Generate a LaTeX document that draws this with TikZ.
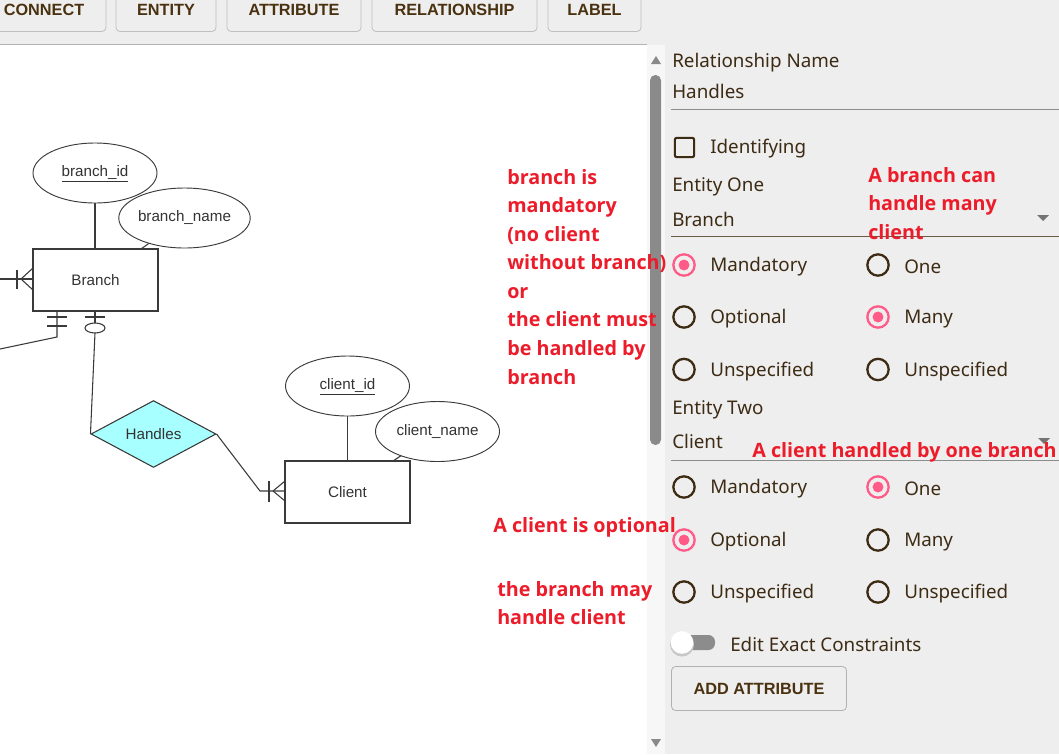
\documentclass[tikz,border=0pt]{standalone}
\usepackage{fontspec}
\setmainfont{Noto Sans}
\newfontfamily\uifont{Noto Sans}
\newfontfamily\btnfont{Liberation Sans}
\newfontfamily\erfont{Liberation Sans}
\newfontfamily\redfont{Open Sans}
\usetikzlibrary{shapes.geometric}
\definecolor{panel}{HTML}{EEEEEE}
\definecolor{track}{HTML}{F7F7F7}
\definecolor{thumb}{HTML}{8A8A8A}
\definecolor{uitext}{HTML}{3D2B14}
\definecolor{btntext}{HTML}{4A3210}
\definecolor{redann}{HTML}{EC1C2A}
\definecolor{pinkr}{HTML}{FF5A88}
\definecolor{cyanfill}{HTML}{A8FFFF}
\definecolor{erline}{HTML}{3A3A3A}
\definecolor{ertext}{HTML}{333333}
\definecolor{selline}{HTML}{6B5A45}
\tikzset{
  btn/.style={draw=black!25, rounded corners=3pt, line width=0.6pt, minimum height=33pt,
    text=btntext, font=\btnfont\bfseries\fontsize{12.2}{14}\selectfont, inner sep=0pt},
  uitxt/.style={anchor=west, text=uitext, inner sep=0pt, font=\uifont\fontsize{14.1}{16}\selectfont},
  radio/.style={circle, draw=uitext, line width=1.7pt, minimum size=16pt, inner sep=0pt},
  radioon/.style={radio, draw=pinkr, path picture={\fill[pinkr] (path picture bounding box.center) circle[radius=4.1pt];}},
  redtxt/.style={anchor=north west, align=left, inner sep=0pt, text=redann,
    font=\redfont\bfseries\fontsize{14.8}{21.4}\selectfont},
  attr/.style={ellipse, draw=erline, fill=white, line width=0.7pt, minimum width=93pt, minimum height=45pt,
    inner sep=0pt, text=ertext, text height=8pt, text depth=2.2pt, font=\erfont\fontsize{11.4}{13}\selectfont},
  ent/.style={rectangle, draw=erline, fill=white, line width=0.8pt, minimum width=93.75pt, minimum height=46.5pt,
    inner sep=0pt, text=ertext, font=\erfont\fontsize{11.4}{13}\selectfont},
  rel/.style={diamond, draw=erline, fill=cyanfill, line width=0.8pt, minimum width=93.75pt, minimum height=46.5pt,
    inner sep=0pt, text=ertext, font=\erfont\fontsize{11.4}{13}\selectfont},
  erl/.style={draw=erline, line width=0.8pt},
}
\begin{document}
\begin{tikzpicture}[x=0.75pt,y=-0.75pt]
\useasboundingbox (0,0) rectangle (1059,754);
\clip (0,0) rectangle (1059,754);
% backgrounds
\fill[panel] (0,0) rectangle (1059,754);
\fill[white] (0,45) rectangle (647,754);
\fill[track] (647,45) rectangle (665,754);
\draw[black!30, line width=0.75pt] (0,44.5) -- (647,44.5);
% scrollbar
\fill[thumb, rounded corners=4pt] (650,75) rectangle (661,445);
\fill[thumb] (651,64) -- (661,64) -- (656,56) -- cycle;
\fill[thumb] (651,739) -- (661,739) -- (656,747) -- cycle;
% toolbar buttons
\node[btn, minimum width=93pt] (bconnect) at (44,9.5) {CONNECT};
\node[btn, minimum width=75pt] (bentity) at (166,9.5) {ENTITY};
\node[btn, minimum width=100.5pt] (battr) at (294,9.5) {ATTRIBUTE};
\node[btn, minimum width=123.75pt] (brel) at (454.5,9.5) {RELATIONSHIP};
\node[btn, minimum width=69.75pt] (blabel) at (594.5,9.5) {LABEL};

% ---------------- ER diagram ----------------
\node[ent] (branch) at (95.5,280) {Branch};
\node[ent] (client) at (347.5,492) {Client};
\node[rel] (handles) at (153.5,434) {Handles};
% attribute links (behind ellipses)
\coordinate (bnstub) at (141,249);
\coordinate (cnstub) at (393,461);
\draw[erl] (95,203) -- (branch.north -| 95,0);
\draw[erl] (184.5,218) -- (bnstub);
\draw[erl] (347.5,416) -- (client.north);
\draw[erl] (437.5,431.5) -- (cnstub);
\node[attr] (bid) at (95,173) {\underline{branch\_id}};
\node[attr] (bname) at (184.5,218) {branch\_name};
\node[attr] (cid) at (347.5,386) {\underline{client\_id}};
\node[attr] (cname) at (437.5,431.5) {client\_name};
% left connector of Branch (one or many)
\coordinate (bleft) at (0,279);
\coordinate (bw) at (33,279);
\draw[erl] (bleft) -- (bw);
\draw[erl] (17,270) -- (17,289);
\draw[erl] (21,279) -- (33,268);
\draw[erl] (21,279) -- (33,290);
% bottom connector 1 (one and only one)
\coordinate (b1) at (57,303);
\coordinate (b1k) at (57,337);
\coordinate (b1e) at (0,349);
\draw[erl] (b1 |- branch.south) -- (b1k) -- (b1e);
\draw[erl] (47,317) -- (67,317);
\draw[erl] (47,326) -- (67,326);
% bottom connector 2 (zero or one) to Handles
\coordinate (b2) at (95,311);
\coordinate (b2o) at (95,333);
\draw[erl] (b2) -- (95,323);
\draw[erl] (85,317) -- (105,317);
\draw[erl] (95,328) ellipse [x radius=10, y radius=5];
\draw[erl] (b2o) -- (handles.west);
% Handles to Client (one or many)
\coordinate (hc) at (260,491);
\draw[erl] (handles.east) -- (hc) -- (client.west |- hc);
\draw[erl] (269,481) -- (269,502);
\draw[erl] (273,491) -- (285,481);
\draw[erl] (273,491) -- (285,501);

% ---------------- red annotations ----------------
\node[redtxt] (ann1) at (507,169) {branch is\\mandatory\\(no client\\without branch)\\or\\the client must\\be handled by\\branch};
\node[redtxt] (ann4) at (493,517) {A client is optional};
\node[redtxt] (ann5) at (497,581) {the branch may\\handle client};

% ---------------- right panel ----------------
\node[uitxt] (lrelname) at (672,62.5) {Relationship Name};
\node[uitxt] (lhandles) at (672,91.5) {Handles};
\draw[black!45, line width=0.75pt] (671,109.5) -- (1059,109.5);
\node[draw=uitext, line width=1.6pt, rounded corners=1.5pt, minimum size=14.5pt, inner sep=0pt] (chk) at (684.5,147.5) {};
\node[uitxt] (lident) at (710,149) {Identifying};
\node[uitxt] (lent1) at (672,187) {Entity One};
\node[uitxt] (lbranch) at (672,219) {Branch};
\fill[black!55] (1037,215) -- (1049,215) -- (1043,221) -- cycle;
\draw[selline, line width=1.3pt] (671,236.5) -- (1059,236.5);
\node[redtxt] (ann2) at (868,167) {A branch can\\handle many\\client};
% entity one radios
\node[radioon] (r11) at (684,265) {};
\node[uitxt] (t11) at (710,267) {Mandatory};
\node[radio] (r12) at (878,265) {};
\node[uitxt] (t12) at (904,267) {One};
\node[radio] (r21) at (684,317) {};
\node[uitxt] (t21) at (710,319) {Optional};
\node[radioon] (r22) at (878,317) {};
\node[uitxt] (t22) at (904,319) {Many};
\node[radio] (r31) at (684,369.5) {};
\node[uitxt] (t31) at (710,371.5) {Unspecified};
\node[radio] (r32) at (878,369.5) {};
\node[uitxt] (t32) at (904,371.5) {Unspecified};
% entity two
\node[uitxt] (lent2) at (672,410) {Entity Two};
\node[uitxt] (lclient) at (672,441) {Client};
\fill[black!55] (1038,438) -- (1050,438) -- (1044,444) -- cycle;
\draw[black!45, line width=0.75pt] (671,460.5) -- (1059,460.5);
\node[redtxt, anchor=west] (ann3) at (752,452.5) {A client handled by one branch};
\node[radio] (s11) at (684,487) {};
\node[uitxt] (u11) at (710,489) {Mandatory};
\node[radioon] (s12) at (878,487) {};
\node[uitxt] (u12) at (904,489) {One};
\node[radioon] (s21) at (684,540) {};
\node[uitxt] (u21) at (710,542) {Optional};
\node[radio] (s22) at (878,540) {};
\node[uitxt] (u22) at (904,542) {Many};
\node[radio] (s31) at (684,592) {};
\node[uitxt] (u31) at (710,594) {Unspecified};
\node[radio] (s32) at (878,592) {};
\node[uitxt] (u32) at (904,594) {Unspecified};
% toggle
\fill[black!45, rounded corners=5pt] (676,635) rectangle (715,650);
\fill[black!22] (682,644.5) circle [radius=12];
\node[circle, fill=white, minimum size=17pt, inner sep=0pt] (knob) at (682,642.5) {};
\node[uitxt] (ledit) at (730,644) {Edit Exact Constraints};
% add attribute button
\node[btn, draw=black!30, minimum width=131.25pt, minimum height=33pt] (baddattr) at (759,688.5) {ADD ATTRIBUTE};
\end{tikzpicture}
\end{document}
